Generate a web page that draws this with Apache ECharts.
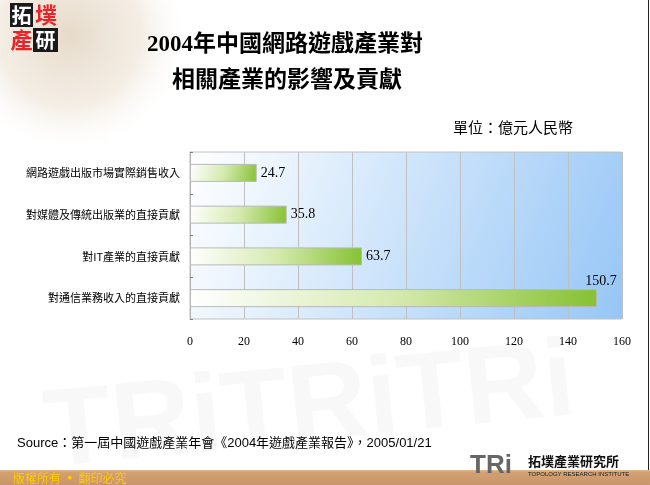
<!DOCTYPE html>
<html>
<head>
<meta charset="utf-8">
<script src="https://cdn.jsdelivr.net/npm/echarts@6/dist/echarts.min.js"></script>
<style>
html,body{margin:0;padding:0;background:#fff;}
#c{width:650px;height:485px;}
</style>
</head>
<body>
<div id="c"></div>
<script>
var categories = [
  '網路遊戲出版市場實際銷售收入',
  '對媒體及傳統出版業的直接貢獻',
  '對IT產業的直接貢獻',
  '對通信業務收入的直接貢獻'
];
var values = [24.7, 35.8, 63.7, 150.7];
var xTicks = [0, 20, 40, 60, 80, 100, 120, 140, 160];
var titleLines = ['2004年中國網路遊戲產業對', '相關產業的影響及貢獻'];
var unitText = '單位：億元人民幣';
var sourceText = 'Source：第一屆中國遊戲產業年會《2004年遊戲產業報告》，2005/01/21';
var footerText = '版權所有 ▪ 翻印必究';

var chart = echarts.init(document.getElementById('c'), null, {renderer: 'canvas'});

var barData = values.map(function (v, i) {
  var item = {value: v};
  if (i === values.length - 1) {
    item.label = {position: ['100%', 0], align: 'center', verticalAlign: 'bottom', offset: [4, -1]};
  }
  return item;
});

var serifFont = '"Liberation Serif", "DejaVu Serif", serif';
var cjkFont = '"Noto Sans CJK TC", "Noto Sans CJK SC", sans-serif';

var graphics = [
  {type: 'circle', shape: {cx: 70, cy: 35, r: 120}, z: -10, silent: true,
   style: {fill: new echarts.graphic.RadialGradient(0.5, 0.5, 0.5, [
     {offset: 0, color: 'rgba(226,212,192,0.85)'},
     {offset: 0.6, color: 'rgba(236,226,212,0.6)'},
     {offset: 1, color: 'rgba(255,255,255,0)'}])}},
  {type: 'rect', shape: {x: 10, y: 3, width: 23, height: 24}, style: {fill: '#1a1a1a'}},
  {type: 'text', x: 21.5, y: 15, style: {text: '拓', fill: '#fff', font: 'bold 20px ' + cjkFont, align: 'center', verticalAlign: 'middle'}},
  {type: 'text', x: 46, y: 15, style: {text: '墣', fill: '#e8232a', font: 'bold 22px ' + cjkFont, align: 'center', verticalAlign: 'middle'}},
  {type: 'text', x: 21.5, y: 40, style: {text: '產', fill: '#e8232a', font: 'bold 22px ' + cjkFont, align: 'center', verticalAlign: 'middle'}},
  {type: 'rect', shape: {x: 33, y: 28, width: 25, height: 24}, style: {fill: '#1a1a1a'}},
  {type: 'text', x: 45.5, y: 40, style: {text: '研', fill: '#fff', font: 'bold 20px ' + cjkFont, align: 'center', verticalAlign: 'middle'}},
  {type: 'text', x: 285, y: 45, style: {text: titleLines[0], fill: '#000', font: 'bold 23px "Liberation Serif", ' + cjkFont, align: 'center', verticalAlign: 'middle'}},
  {type: 'text', x: 287, y: 78, style: {text: titleLines[1], fill: '#000', font: 'bold 23px ' + cjkFont, align: 'center', verticalAlign: 'middle'}},
  {type: 'text', x: 453, y: 127, style: {text: unitText, fill: '#000', font: '15px ' + cjkFont, align: 'left', verticalAlign: 'middle'}},
  {type: 'text', x: 310, y: 410, rotation: 0.1, z: -5, silent: true, style: {text: 'TRiTRiTRi', fill: 'rgba(200,190,190,0.10)', font: 'bold 110px "Liberation Sans", sans-serif', align: 'center', verticalAlign: 'middle'}},
  {type: 'text', x: 17, y: 443, style: {text: sourceText, fill: '#000', font: '13px "Liberation Sans", ' + cjkFont, align: 'left', verticalAlign: 'middle'}},
  {type: 'rect', shape: {x: 0, y: 470, width: 650, height: 15}, style: {fill: new echarts.graphic.LinearGradient(0, 0, 0, 1, [
     {offset: 0, color: '#e3b98f'}, {offset: 0.15, color: '#d2a172'}, {offset: 1, color: '#c9956a'}])}},
  {type: 'text', x: 13, y: 478, style: {text: footerText, fill: '#ffcc00', font: '12px ' + cjkFont, align: 'left', verticalAlign: 'middle'}},
  {type: 'text', x: 470, y: 466, style: {text: 'TRi', fill: '#666', font: 'bold 26px "Liberation Sans", sans-serif', align: 'left', verticalAlign: 'middle'}},
  {type: 'text', x: 528, y: 461, style: {text: '拓墣產業研究所', fill: '#111', font: 'bold 13px ' + cjkFont, align: 'left', verticalAlign: 'middle'}},
  {type: 'text', x: 528, y: 474, style: {text: 'TOPOLOGY RESEARCH INSTITUTE', fill: '#222', font: '6px "Liberation Sans", sans-serif', align: 'left', verticalAlign: 'middle'}},
  {type: 'line', shape: {x1: 648.5, y1: 0, x2: 648.5, y2: 470}, style: {stroke: '#222', lineWidth: 1}}
];

chart.setOption({
  animation: false,
  grid: {
    left: 190, right: 28, top: 152, bottom: 166,
    show: true,
    borderColor: '#c0c0c0', borderWidth: 1,
    backgroundColor: new echarts.graphic.LinearGradient(0, 0, 1, 1, [
      {offset: 0, color: '#ffffff'},
      {offset: 1, color: '#96c6f6'}])
  },
  xAxis: {
    type: 'value', min: xTicks[0], max: xTicks[xTicks.length - 1], interval: xTicks[1] - xTicks[0],
    axisLine: {show: false}, axisTick: {show: false},
    splitLine: {show: true, lineStyle: {color: '#c0c0c0', width: 1}},
    axisLabel: {margin: 17, color: '#000', fontFamily: serifFont, fontSize: 12}
  },
  yAxis: {
    type: 'category', data: categories, inverse: true,
    axisLine: {show: true, lineStyle: {color: '#b0b0b0'}},
    axisTick: {show: true, inside: true, length: 3, lineStyle: {color: '#808080'}},
    axisLabel: {margin: 10, color: '#000', fontFamily: cjkFont, fontSize: 11}
  },
  series: [{
    type: 'bar', data: barData, barWidth: 18,
    itemStyle: {
      color: new echarts.graphic.LinearGradient(0, 0, 1, 1, [
        {offset: 0, color: '#ffffff'},
        {offset: 0.5, color: '#d6eab0'},
        {offset: 1, color: '#86c132'}]),
      borderColor: '#b8b8b8', borderWidth: 1
    },
    label: {show: true, position: 'right', distance: 4, color: '#000', fontFamily: serifFont, fontSize: 14}
  }],
  graphic: graphics
});
</script>
</body>
</html>
